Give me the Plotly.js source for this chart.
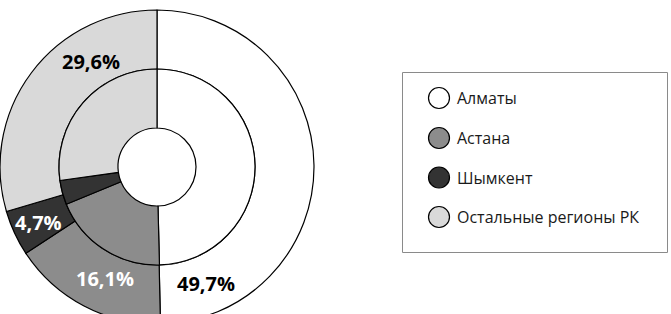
<!DOCTYPE html>
<html><head><meta charset="utf-8">
<script src="https://cdn.plot.ly/plotly-3.0.1.min.js"></script>
<style>html,body{margin:0;padding:0;overflow:hidden;background:#fff}#chart{width:671px;height:334px}</style>
</head><body><div id="chart"></div>
<script>
const categories = ['Алматы', 'Астана', 'Шымкент', 'Остальные регионы РК'];
const outerValues = [49.7, 16.1, 4.7, 29.6];
const innerValues = [49.6, 19.2, 4.0, 27.2];
const outerLabels = ['49,7%', '16,1%', '4,7%', '29,6%'];
const colors = ['#ffffff', '#8c8c8c', '#333333', '#d9d9d9'];
const labelColors = ['#000000', '#ffffff', '#ffffff', '#000000'];

const W = 671, H = 334;
const px = x => x / W;
const py = y => (H - y) / H;

const line = {color: '#000000', width: 1.2};
const outer = {
  type: 'pie', values: outerValues, labels: categories, sort: false,
  direction: 'clockwise', rotation: 0, hole: 98 / 157,
  marker: {colors: colors, line: line}, textinfo: 'none', hoverinfo: 'skip',
  domain: {x: [px(0), px(314)], y: [py(324), py(10)]}, showlegend: false
};
const inner = {
  type: 'pie', values: innerValues, labels: categories, sort: false,
  direction: 'clockwise', rotation: 0, hole: 39 / 98,
  marker: {colors: colors, line: line}, textinfo: 'none', hoverinfo: 'skip',
  domain: {x: [px(59), px(255)], y: [py(265), py(69)]}, showlegend: false
};

const labelPos = [[206, 283.5], [105, 278.5], [38.5, 222.5], [91, 61.5]];
const annotations = [];
const shapes = [];
outerLabels.forEach((t, i) => {
  annotations.push({
    text: '<b>' + t + '</b>', x: px(labelPos[i][0]), y: py(labelPos[i][1]),
    xref: 'paper', yref: 'paper', showarrow: false, xanchor: 'center', yanchor: 'middle',
    font: {family: 'Open Sans, sans-serif', size: 20, color: labelColors[i]}
  });
});

// legend box
shapes.push({type: 'rect', xref: 'paper', yref: 'paper', x0: px(402.5), x1: px(667.5), y0: py(252.5), y1: py(72.5),
  line: {color: '#8a8a8a', width: 1}, fillcolor: 'rgba(0,0,0,0)'});
const rowY = [98, 138, 177.5, 217];
categories.forEach((c, i) => {
  const cx = 439, cy = rowY[i], r = 10.5;
  shapes.push({type: 'circle', xref: 'paper', yref: 'paper', x0: px(cx - r), x1: px(cx + r), y0: py(cy + r), y1: py(cy - r),
    fillcolor: colors[i], line: {color: '#000000', width: 1.2}});
  annotations.push({text: c, x: px(455), y: py(cy), xref: 'paper', yref: 'paper', showarrow: false,
    xanchor: 'left', yanchor: 'middle', font: {family: 'Open Sans, sans-serif', size: 16, color: '#1a1a1a'}});
});

Plotly.newPlot('chart', [outer, inner], {
  width: W, height: H, margin: {l: 0, r: 0, t: 0, b: 0},
  paper_bgcolor: '#ffffff', plot_bgcolor: '#ffffff', showlegend: false,
  annotations: annotations, shapes: shapes
}, {staticPlot: true, displayModeBar: false});
</script></body></html>
